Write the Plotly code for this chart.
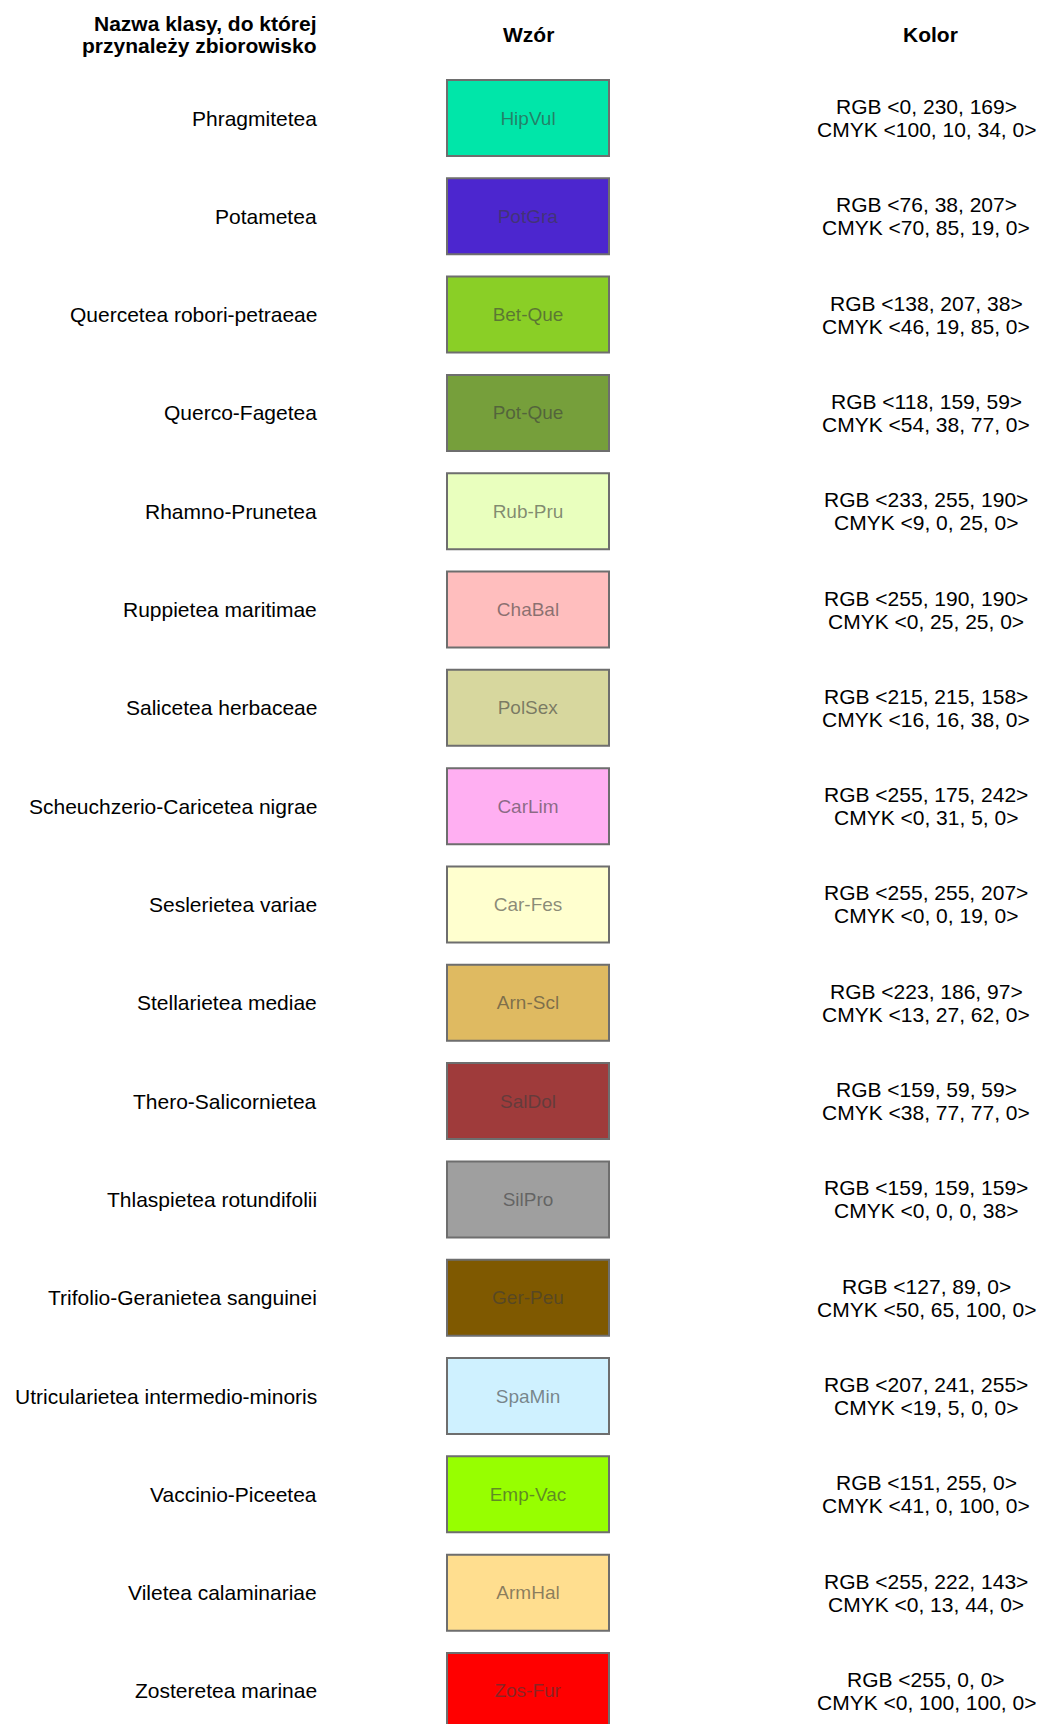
import plotly.graph_objects as go

classes = [
    "Phragmitetea", "Potametea", "Quercetea robori-petraeae", "Querco-Fagetea",
    "Rhamno-Prunetea", "Ruppietea maritimae", "Salicetea herbaceae",
    "Scheuchzerio-Caricetea nigrae", "Seslerietea variae", "Stellarietea mediae",
    "Thero-Salicornietea", "Thlaspietea rotundifolii", "Trifolio-Geranietea sanguinei",
    "Utricularietea intermedio-minoris", "Vaccinio-Piceetea", "Viletea calaminariae",
    "Zosteretea marinae",
]
codes = [
    "HipVul", "PotGra", "Bet-Que", "Pot-Que", "Rub-Pru", "ChaBal", "PolSex",
    "CarLim", "Car-Fes", "Arn-Scl", "SalDol", "SilPro", "Ger-Peu", "SpaMin",
    "Emp-Vac", "ArmHal", "Zos-Fur",
]
rgb = [
    (0, 230, 169), (76, 38, 207), (138, 207, 38), (118, 159, 59), (233, 255, 190),
    (255, 190, 190), (215, 215, 158), (255, 175, 242), (255, 255, 207), (223, 186, 97),
    (159, 59, 59), (159, 159, 159), (127, 89, 0), (207, 241, 255), (151, 255, 0),
    (255, 222, 143), (255, 0, 0),
]
cmyk = [
    (100, 10, 34, 0), (70, 85, 19, 0), (46, 19, 85, 0), (54, 38, 77, 0), (9, 0, 25, 0),
    (0, 25, 25, 0), (16, 16, 38, 0), (0, 31, 5, 0), (0, 0, 19, 0), (13, 27, 62, 0),
    (38, 77, 77, 0), (0, 0, 0, 38), (50, 65, 100, 0), (19, 5, 0, 0), (41, 0, 100, 0),
    (0, 13, 44, 0), (0, 100, 100, 0),
]
headers = ["Nazwa klasy, do której", "przynależy zbiorowisko", "Wzór", "Kolor"]

W, H = 1045, 1724
OFF = 8             # default page margin around the plot div
row_px = 98.31      # vertical distance between rows (pixels)
row0_px = 118       # centre of first row (pixels)
px = 1 / row_px     # one pixel in row units
col_x = 926         # centre of the colour column

rows = list(range(len(classes)))
FONT = "Liberation Sans, Arial, sans-serif"

fig = go.Figure()

# swatches as horizontal bars
fig.add_trace(go.Bar(
    orientation="h",
    y=rows,
    x=[162] * len(rows),
    base=[447] * len(rows),
    width=76 * px,
    marker=dict(color=[f"rgb{c}" for c in rgb], line=dict(color="#6e6e6e", width=2)),
    text=codes,
    textposition="inside",
    insidetextanchor="middle",
    textangle=0,
    constraintext="none",
    textfont=dict(family=FONT, size=19, color="rgba(60,60,60,0.6)"),
    hoverinfo="skip",
    showlegend=False,
))

ann = []
# headers
ann.append(dict(x=319, y=(23 - row0_px) * px, text=f"<b>{headers[0]}</b>", xanchor="right"))
ann.append(dict(x=319, y=(45 - row0_px) * px, text=f"<b>{headers[1]}</b>", xanchor="right"))
ann.append(dict(x=528, y=(34 - row0_px) * px, text=f"<b>{headers[2]}</b>", xanchor="center"))
ann.append(dict(x=col_x + 4, y=(34 - row0_px) * px, text=f"<b>{headers[3]}</b>", xanchor="center"))

for i, name in enumerate(classes):
    ann.append(dict(x=319, y=i, text=name, xanchor="right"))
    r, g, b = rgb[i]
    c, m, yy, k = cmyk[i]
    ann.append(dict(x=col_x, y=i - 11.5 * px, text=f"RGB &lt;{r}, {g}, {b}&gt;", xanchor="center"))
    ann.append(dict(x=col_x, y=i + 11.5 * px, text=f"CMYK &lt;{c}, {m}, {yy}, {k}&gt;", xanchor="center"))

for a in ann:
    a.update(xref="x", yref="y", yanchor="middle", showarrow=False,
             font=dict(family=FONT, size=21, color="#000000"))

fig.update_layout(
    annotations=ann,
    width=W, height=H,
    margin=dict(l=0, r=0, t=0, b=0),
    paper_bgcolor="white", plot_bgcolor="white",
    xaxis=dict(range=[OFF, W + OFF], visible=False, fixedrange=True),
    yaxis=dict(range=[(H + OFF - row0_px) * px, (OFF - row0_px) * px],
               visible=False, fixedrange=True),
    showlegend=False,
)

fig.write_html("out.html")
